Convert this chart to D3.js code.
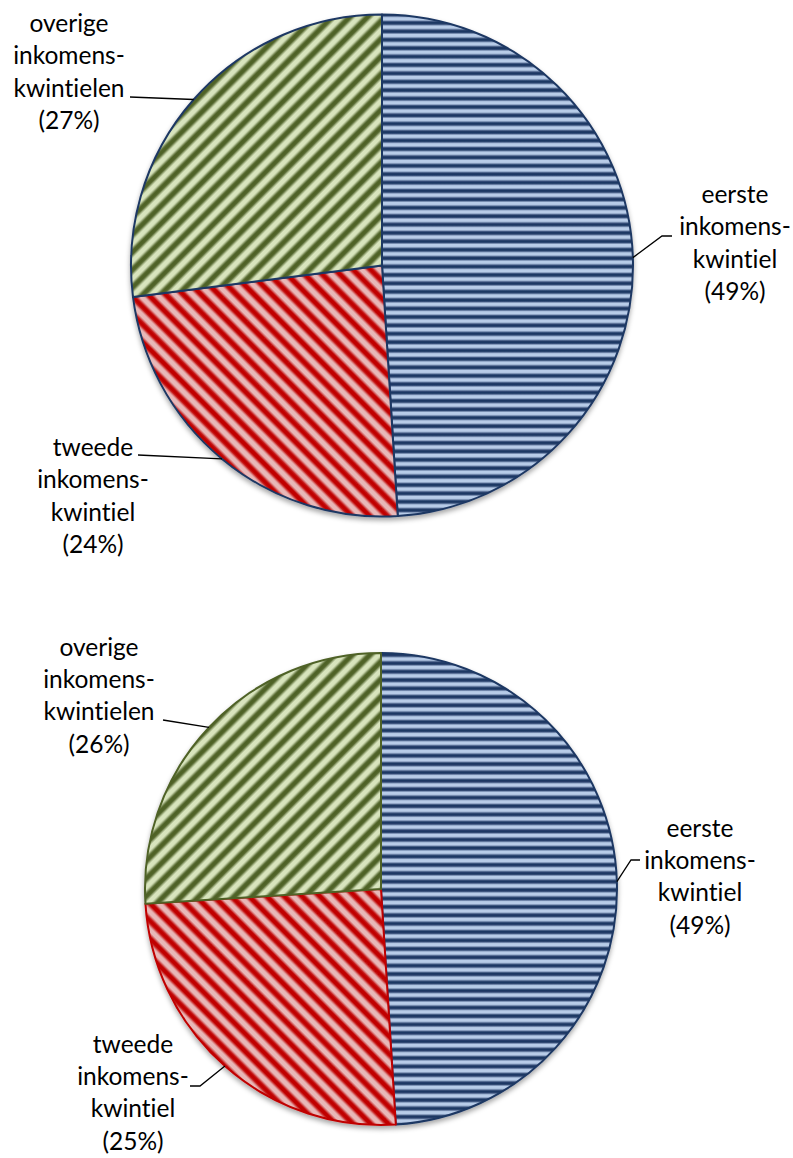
<!DOCTYPE html>
<html>
<head>
<meta charset="utf-8">
<script src="https://cdn.jsdelivr.net/npm/d3@7/dist/d3.min.js"></script>
<style>
  html, body { margin: 0; padding: 0; background: #fff; }
  svg { display: block; }
  text { font-family: Lato, "Open Sans", sans-serif; fill: #000; font-variant-ligatures: none; font-feature-settings: "liga" 0, "clig" 0; }
</style>
</head>
<body>
<svg id="chart" width="793" height="1158"></svg>
<script>
// Share of households per income quintile, two periods
const categories = ["eerste", "tweede", "overige"];
const labelLines = [
  ["eerste", "inkomens-", "kwintiel"],
  ["tweede", "inkomens-", "kwintiel"],
  ["overige", "inkomens-", "kwintielen"]
];
const valuesTop = [49, 24, 27];
const valuesBottom = [49, 25, 26];

const svg = d3.select("#chart");
const defs = svg.append("defs");

// Soft striped fills per category
const fills = {
  eerste:  { dark: "#1F3864", light: "#B8CCE8", period: 8.4, angle: 0 },
  tweede:  { dark: "#C00000", light: "#E8B8B8", period: 12.5, angle: -45 },
  overige: { dark: "#4F6228", light: "#D8E4BD", period: 12.5, angle: 45 }
};
const strokeColor = { eerste: "#1F3864", tweede: "#C00000", overige: "#4F6228" };

Object.entries(fills).forEach(([key, f]) => {
  const gid = "grad-" + key;
  const horizontal = f.angle === 0;
  const g = defs.append("linearGradient")
    .attr("id", gid)
    .attr("x1", 0).attr("y1", 0)
    .attr("x2", horizontal ? 0 : 1).attr("y2", horizontal ? 1 : 0);
  [[0, f.dark], [0.25, f.dark], [0.48, f.light], [0.77, f.light], [1, f.dark]]
    .forEach(([o, c]) => g.append("stop").attr("offset", o).attr("stop-color", c));
  const p = defs.append("pattern")
    .attr("id", "pat-" + key)
    .attr("patternUnits", "userSpaceOnUse")
    .attr("width", horizontal ? 20 : f.period)
    .attr("height", horizontal ? f.period : 20)
    .attr("patternTransform", `rotate(${f.angle})`);
  p.append("rect")
    .attr("width", horizontal ? 20 : f.period)
    .attr("height", horizontal ? f.period : 20)
    .attr("fill", `url(#${gid})`);
});

const shadow = defs.append("filter").attr("id", "pieShadow")
  .attr("x", "-10%").attr("y", "-10%").attr("width", "120%").attr("height", "120%");
shadow.append("feDropShadow")
  .attr("dx", 0).attr("dy", 3).attr("stdDeviation", 2.5)
  .attr("flood-color", "#000").attr("flood-opacity", 0.35);

const pie = d3.pie().sort(null).value(d => d);

function drawPie(values, opt) {
  const arcs = pie(values);
  const arc = d3.arc().innerRadius(0).outerRadius(opt.r);
  const g = svg.append("g").attr("transform", `translate(${opt.cx},${opt.cy})`);

  g.append("g").attr("filter", "url(#pieShadow)")
    .selectAll("path").data(arcs).join("path")
    .attr("d", arc)
    .attr("fill", (d, i) => `url(#pat-${categories[i]})`)
    .attr("stroke", (d, i) => opt.ownStroke ? strokeColor[categories[i]] : "#1F3864")
    .attr("stroke-width", 2)
    .attr("stroke-linejoin", "round");

  // labels with leader lines ending at the slice's arc midpoint
  arcs.forEach((a, i) => {
    const L = opt.labels[i];
    const mid = (a.startAngle + a.endAngle) / 2;
    const end = [opt.cx + opt.r * Math.sin(mid), opt.cy - opt.r * Math.cos(mid)];
    const pts = L.leader.concat([end]);
    svg.append("path")
      .attr("d", d3.line()(pts))
      .attr("fill", "none")
      .attr("stroke", "#000")
      .attr("stroke-width", 1.3);

    const lines = labelLines[i].concat([`(${values[i]}%)`]);
    const t = svg.append("text")
      .attr("text-anchor", "middle")
      .attr("font-size", opt.fontSize);
    lines.forEach((s, k) => {
      t.append("tspan")
        .attr("x", L.x)
        .attr("y", L.y + k * opt.lineH)
        .text(s);
    });
  });
}

drawPie(valuesTop, {
  cx: 382, cy: 265.5, r: 251, ownStroke: false, fontSize: 24.5, lineH: 32.4,
  labels: [
    { x: 735, y: 203, leader: [[672, 236], [662, 236]] },
    { x: 93,  y: 456, leader: [[138, 455]] },
    { x: 69,  y: 32,  leader: [[130, 97]] }
  ]
});

drawPie(valuesBottom, {
  cx: 381, cy: 889, r: 236, ownStroke: true, fontSize: 24.5, lineH: 32.2,
  labels: [
    { x: 700, y: 837,  leader: [[640, 860], [631, 860]] },
    { x: 133, y: 1053, leader: [[190, 1086], [200, 1086]] },
    { x: 99,  y: 656,  leader: [[163, 720]] }
  ]
});
</script>
</body>
</html>
